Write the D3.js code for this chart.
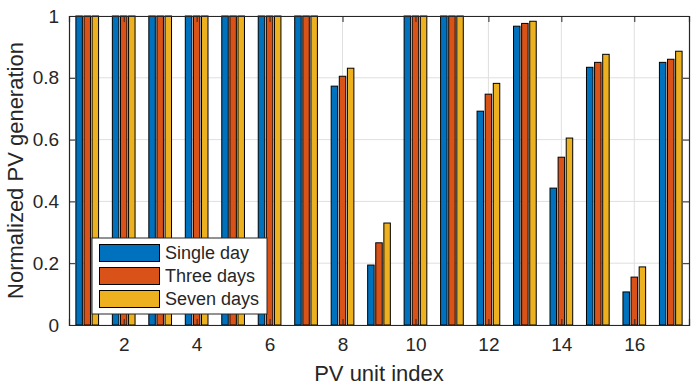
<!DOCTYPE html>
<html>
<head>
<meta charset="utf-8">
<script src="https://cdn.jsdelivr.net/npm/d3@7"></script>
<style>
  body { margin: 0; background: #fff; }
  text { font-family: "Liberation Sans", Arial, Helvetica, sans-serif; fill: #262626; }
</style>
</head>
<body>
<svg id="chart"></svg>
<script>
var units = d3.range(1, 18);
var seriesNames = ["Single day", "Three days", "Seven days"];
var singleDay = [1, 1, 1, 1, 1, 1, 1, 0.773, 0.194, 1, 1, 0.692, 0.967, 0.443, 0.834, 0.107, 0.850];
var threeDays = [1, 1, 1, 1, 1, 1, 1, 0.805, 0.266, 1, 1, 0.747, 0.976, 0.543, 0.850, 0.155, 0.860];
var sevenDays = [1, 1, 1, 1, 1, 1, 1, 0.831, 0.330, 1, 1, 0.782, 0.983, 0.605, 0.876, 0.188, 0.886];
var xTicks = [2, 4, 6, 8, 10, 12, 14, 16];
var yTicks = [0, 0.2, 0.4, 0.6, 0.8, 1];
var colors = ["#0072BD", "#D95319", "#EDB120"];

var W = 697, H = 386;
var margin = {top: 16, right: 8, bottom: 61, left: 69},
    width = W - margin.left - margin.right,
    height = H - margin.top - margin.bottom;

var svg = d3.select("#chart")
    .attr("width", W)
    .attr("height", H)
  .append("g")
    .attr("transform", "translate(" + margin.left + "," + margin.top + ")");

var x = d3.scaleLinear().domain([0.5, 17.5]).range([0, width]);
var y = d3.scaleLinear().domain([0, 1]).range([height, 0]);

// grid
svg.append("g").selectAll("line")
    .data(xTicks).enter().append("line")
    .attr("x1", d => x(d)).attr("x2", d => x(d))
    .attr("y1", 0).attr("y2", height)
    .style("stroke", "#dfdfdf").style("stroke-width", 1);
svg.append("g").selectAll("line")
    .data(yTicks).enter().append("line")
    .attr("x1", 0).attr("x2", width)
    .attr("y1", d => y(d)).attr("y2", d => y(d))
    .style("stroke", "#dfdfdf").style("stroke-width", 1);

// bars (matlab grouped layout: group width 2/3, bar width 0.8 of a slot)
svg.append("defs").append("clipPath").attr("id", "clip")
  .append("rect").attr("x", 0).attr("y", -1).attr("width", width).attr("height", height + 1);

var series = [singleDay, threeDays, sevenDays];
var slot = (2 / 3) / 3;
var barW = 0.8 * slot;

var bars = svg.append("g").attr("clip-path", "url(#clip)");
series.forEach(function(vals, s) {
  bars.selectAll("rect.s" + s)
    .data(vals).enter().append("rect")
      .attr("class", "s" + s)
      .attr("x", (d, i) => x(units[i] + (s - 1) * slot - barW / 2))
      .attr("width", x(barW) - x(0))
      .attr("y", d => y(d))
      .attr("height", d => y(0) - y(d))
      .style("fill", colors[s])
      .style("stroke", "#000")
      .style("stroke-width", 1);
});

// axes box and inward ticks
var gx = svg.append("g").attr("transform", "translate(0," + height + ")")
    .call(d3.axisBottom(x).tickValues(xTicks).tickSize(-6).tickPadding(13));
var gxt = svg.append("g")
    .call(d3.axisTop(x).tickValues(xTicks).tickSize(-6).tickFormat(""));
var gy = svg.append("g")
    .call(d3.axisLeft(y).tickValues(yTicks).tickSize(-6).tickPadding(8).tickFormat(d3.format("~g")));
var gyr = svg.append("g").attr("transform", "translate(" + width + ",0)")
    .call(d3.axisRight(y).tickValues(yTicks).tickSize(-6).tickFormat(""));

[gx, gxt, gy, gyr].forEach(function(g) {
  g.selectAll("path").style("stroke", "#262626").style("stroke-width", 1.2);
  g.selectAll("line").style("stroke", "#262626");
  g.selectAll("text").style("font-size", "19px").style("fill", "#262626")
    .style("font-family", "'Liberation Sans', Arial, sans-serif");
});
gy.selectAll("text").attr("dx", "-0.1em");

// axis labels
svg.append("text")
    .attr("x", width / 2)
    .attr("y", height + 56)
    .style("text-anchor", "middle")
    .style("font-size", "22px")
    .text("PV unit index");

svg.append("text")
    .attr("transform", "rotate(-90)")
    .attr("x", -height / 2)
    .attr("y", -46)
    .style("text-anchor", "middle")
    .style("font-size", "22px")
    .text("Normalized PV generation");

// legend
var lg = svg.append("g").attr("transform", "translate(" + (92 - margin.left) + "," + (238 - margin.top) + ")");
lg.append("rect")
    .attr("width", 175).attr("height", 76)
    .style("fill", "#fff").style("stroke", "#262626").style("stroke-width", 1);
seriesNames.forEach(function(name, i) {
  lg.append("rect")
      .attr("x", 7.5).attr("y", 6.5 + i * 23)
      .attr("width", 60).attr("height", 17)
      .style("fill", colors[i]).style("stroke", "#000").style("stroke-width", 1);
  lg.append("text")
      .attr("x", 73).attr("y", 15 + i * 23)
      .attr("dy", "0.35em")
      .style("font-size", "18px")
      .text(name);
});
</script>
</body>
</html>
